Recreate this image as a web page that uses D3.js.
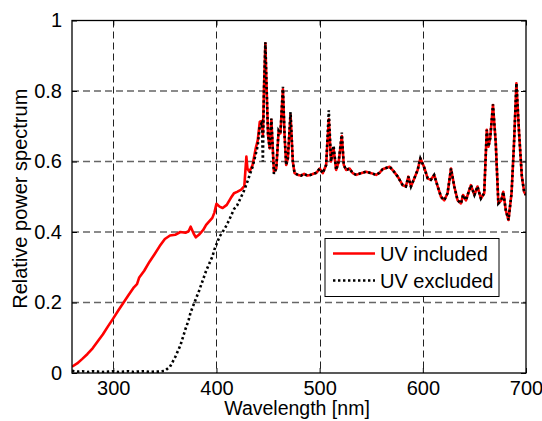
<!DOCTYPE html>
<html>
<head>
<meta charset="utf-8">
<script src="https://cdn.jsdelivr.net/npm/d3@7"></script>
<style>
  html, body { margin: 0; padding: 0; background: #fff; }
  svg { display: block; }
  text { font-family: "Liberation Sans", Arial, sans-serif; }
</style>
</head>
<body>
<svg id="chart" width="542" height="421"></svg>
<script>
const wavelengths = [260,265,270,275,280,285,290,295,300,305,310,315,320,323,325,330,335,340,345,350,
  355,360,365,370,373,375,378,380,383,387,390,393,396,398,400,403,406,410,414,417,
  420,424,427,429,430,432,435,438,440,442,444,445,446,447.4,448.5,450,451.6,453.2,455.7,458,
  460.2,462,464.4,466,467.6,469.2,471.8,474,475.7,479,482,485,488,491,494,497,500,503,506.3,508.9,
  511,513.5,516,518.5,521.5,523.4,525.7,529,532,535.5,540,545,550,554.7,558,561,565,568,571,575.7,
  580.5,583.6,586,588.5,591.7,595,597.6,601.5,604.7,607.8,611,614,617.6,620.8,624,627.3,630.5,633.7,637,639,
  641.8,646.6,650,653,656.3,659.5,662,663.6,665.3,668,670.7,673.2,676,678,680.4,683,686,688.4,690.7,693.3,
  696,698.2,700];

const uvIncluded = [0.018,0.027,0.040,0.054,0.070,0.090,0.110,0.133,0.155,0.178,0.200,0.222,0.243,0.252,0.270,0.290,0.315,0.337,0.360,0.380,
  0.390,0.392,0.400,0.398,0.402,0.415,0.395,0.385,0.392,0.405,0.420,0.430,0.440,0.455,0.480,0.472,0.468,0.477,0.497,0.510,
  0.514,0.520,0.530,0.614,0.580,0.571,0.590,0.637,0.660,0.713,0.715,0.675,0.800,0.935,0.820,0.675,0.637,0.718,0.571,0.580,
  0.685,0.680,0.805,0.675,0.590,0.609,0.732,0.600,0.567,0.562,0.560,0.565,0.560,0.562,0.565,0.568,0.580,0.567,0.590,0.720,
  0.600,0.637,0.576,0.600,0.672,0.590,0.576,0.580,0.567,0.562,0.567,0.571,0.567,0.562,0.568,0.578,0.582,0.585,0.575,0.557,
  0.533,0.529,0.557,0.529,0.552,0.576,0.609,0.582,0.552,0.548,0.562,0.533,0.500,0.490,0.510,0.580,0.529,0.490,0.481,0.505,
  0.490,0.533,0.505,0.529,0.495,0.510,0.690,0.642,0.666,0.760,0.652,0.481,0.490,0.514,0.462,0.434,0.510,0.652,0.822,0.680,
  0.557,0.514,0.505];

const uvExcluded = [0.006,0.004,0.005,0.003,0.005,0.004,0.003,0.004,0.005,0.003,0.004,0.005,0.003,0.004,0.004,0.005,0.003,0.004,0.004,0.006,
  0.018,0.045,0.078,0.125,0.150,0.172,0.195,0.210,0.232,0.265,0.290,0.310,0.330,0.350,0.365,0.387,0.400,0.420,0.445,0.465,
  0.475,0.500,0.519,0.535,0.543,0.560,0.585,0.620,0.645,0.700,0.710,0.600,0.800,0.938,0.820,0.675,0.637,0.722,0.565,0.580,
  0.688,0.680,0.812,0.675,0.590,0.609,0.740,0.600,0.567,0.562,0.560,0.565,0.560,0.562,0.565,0.568,0.580,0.567,0.590,0.745,
  0.600,0.645,0.576,0.600,0.682,0.590,0.576,0.580,0.567,0.562,0.567,0.571,0.567,0.562,0.568,0.578,0.582,0.585,0.575,0.557,
  0.533,0.529,0.557,0.529,0.552,0.576,0.609,0.582,0.552,0.548,0.562,0.533,0.500,0.490,0.510,0.580,0.529,0.490,0.481,0.505,
  0.490,0.533,0.505,0.529,0.495,0.510,0.690,0.642,0.666,0.762,0.652,0.481,0.490,0.514,0.462,0.434,0.510,0.652,0.822,0.680,
  0.557,0.514,0.505];

const seriesNames = ["UV included", "UV excluded"];
const xTicks = [300, 400, 500, 600, 700];
const yTicks = [0, 0.2, 0.4, 0.6, 0.8, 1];
const yTickLabels = ["0", "0.2", "0.4", "0.6", "0.8", "1"];
const xTitle = "Wavelength [nm]";
const yTitle = "Relative power spectrum";

const svg = d3.select("#chart");
const L = 72, R = 526, T = 20.5, B = 373;
const x = d3.scaleLinear().domain([260, 700]).range([L, R]);
const y = d3.scaleLinear().domain([0, 1]).range([B, T]);

svg.append("defs").append("clipPath").attr("id", "clip")
  .append("rect").attr("x", L).attr("y", T).attr("width", R - L).attr("height", B - T);

// grid
const grid = svg.append("g");
grid.selectAll("line.v").data(xTicks.filter(d => d < 700)).join("line")
  .attr("x1", d => Math.round(x(d)) + 0.5).attr("x2", d => Math.round(x(d)) + 0.5)
  .attr("y1", T).attr("y2", B)
  .attr("stroke", "#222").attr("stroke-width", 1).attr("stroke-dasharray", "7,4");
grid.selectAll("line.h").data(yTicks.filter(d => d > 0 && d < 1)).join("line")
  .attr("x1", L).attr("x2", R)
  .attr("y1", d => y(d)).attr("y2", d => y(d))
  .attr("stroke", "#666").attr("stroke-width", 1.6).attr("stroke-dasharray", "7,4");

const pts = (vals) => wavelengths.map((w, i) => [w, vals[i]]);
const line = d3.line().x(d => x(d[0])).y(d => y(d[1]));

const plot = svg.append("g").attr("clip-path", "url(#clip)");
plot.append("path").datum(pts(uvIncluded)).attr("d", line)
  .attr("fill", "none").attr("stroke", "#ff0000").attr("stroke-width", 2.6)
  .attr("stroke-linejoin", "round");
plot.append("path").datum(pts(uvExcluded)).attr("d", line)
  .attr("fill", "none").attr("stroke", "#000").attr("stroke-width", 2.6)
  .attr("stroke-dasharray", "2.4,2.6");

// axes
const xAxis = d3.axisBottom(x).tickValues(xTicks).tickSize(-5).tickPadding(8)
  .tickFormat(d => String(d));
const gx = svg.append("g").attr("transform", `translate(0,${B})`).call(xAxis);
gx.select(".domain").remove();
gx.selectAll("text").attr("font-size", 20).attr("fill", "#000")
  .attr("font-family", "'Liberation Sans', Arial, sans-serif");
gx.selectAll(".tick line").attr("stroke", "#000");

const yAxis = d3.axisLeft(y).tickValues(yTicks).tickSize(-5).tickPadding(10)
  .tickFormat((d, i) => yTickLabels[i]);
const gy = svg.append("g").attr("transform", `translate(${L},0)`).call(yAxis);
gy.select(".domain").remove();
gy.selectAll("text").attr("font-size", 20).attr("fill", "#000")
  .attr("font-family", "'Liberation Sans', Arial, sans-serif");
gy.selectAll(".tick line").attr("stroke", "#000");

// top/right ticks
svg.append("g").attr("transform", `translate(0,${T})`)
  .call(d3.axisTop(x).tickValues(xTicks).tickSize(-5).tickFormat(""))
  .call(g => g.select(".domain").remove());
svg.append("g").attr("transform", `translate(${R},0)`)
  .call(d3.axisRight(y).tickValues(yTicks).tickSize(-5).tickFormat(""))
  .call(g => g.select(".domain").remove());

// frame
svg.append("rect").attr("x", L).attr("y", T).attr("width", R - L).attr("height", B - T)
  .attr("fill", "none").attr("stroke", "#000").attr("stroke-width", 1.3);

// titles
svg.append("text").attr("x", (L + R) / 2 - 2).attr("y", 415).attr("text-anchor", "middle")
  .attr("font-size", 19.5).text(xTitle);
svg.append("text").attr("transform", `translate(26.5,${(T + B) / 2 + 2}) rotate(-90)`)
  .attr("text-anchor", "middle").attr("font-size", 20).text(yTitle);

// legend
const lg = svg.append("g").attr("transform", "translate(325,238.5)");
lg.append("rect").attr("width", 174).attr("height", 58)
  .attr("fill", "#fff").attr("stroke", "#000").attr("stroke-width", 1);
const styles = [
  { stroke: "#ff0000", dash: null },
  { stroke: "#000", dash: "2.4,2.6" }
];
seriesNames.forEach((name, i) => {
  const cy = 15 + i * 27;
  lg.append("line").attr("x1", 8).attr("x2", 50).attr("y1", cy).attr("y2", cy)
    .attr("stroke", styles[i].stroke).attr("stroke-width", 2.6)
    .attr("stroke-dasharray", styles[i].dash);
  lg.append("text").attr("x", 55).attr("y", cy + 7).attr("font-size", 20).text(name);
});
</script>
</body>
</html>
